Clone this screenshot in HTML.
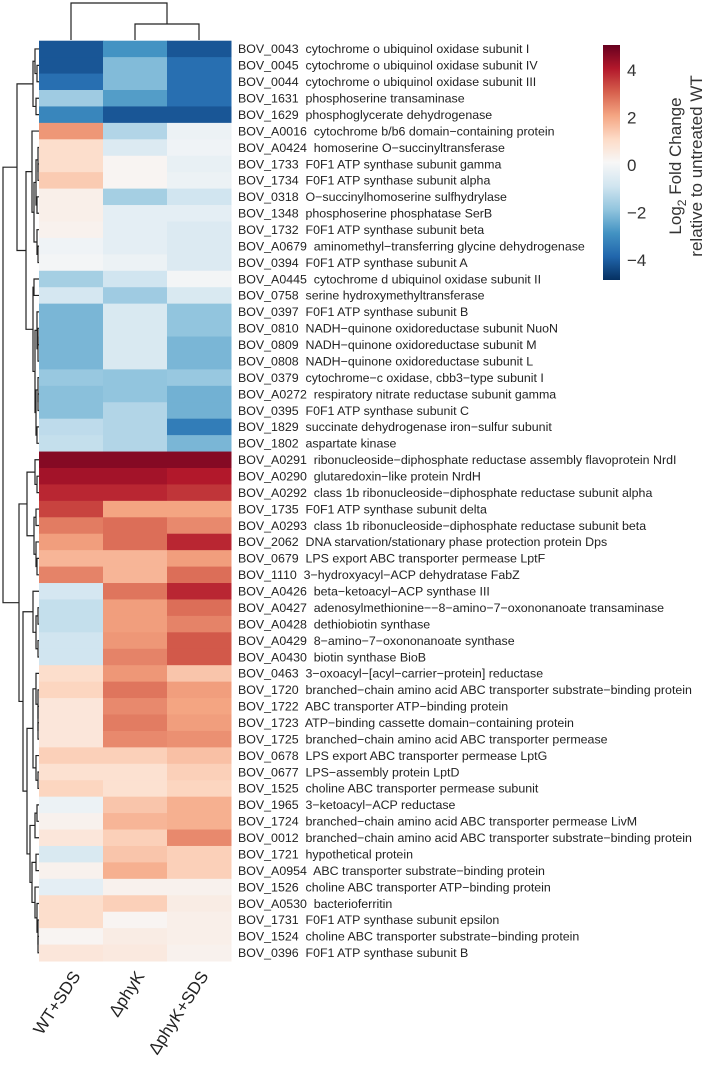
<!DOCTYPE html>
<html><head><meta charset="utf-8"><style>
body{margin:0;background:#fff;width:709px;height:1070px;overflow:hidden}
svg{display:block;font-family:"Liberation Sans",sans-serif}
</style></head><body>
<svg id="chart" width="709" height="1070" viewBox="0 0 709 1070" xmlns="http://www.w3.org/2000/svg">
<g id="cells"></g>
<g id="labels"></g>
<g id="rowdend" stroke="#222" stroke-width="1.2" fill="none"></g>
<g id="coldend" stroke="#222" stroke-width="1.2" fill="none"></g>
<g id="collabels"></g>
<defs><linearGradient id="cbg" x1="0" y1="1" x2="0" y2="0"></linearGradient></defs>
<rect x="603" y="45" width="17" height="235" fill="url(#cbg)"/>
<g id="cbticks"></g>
<text transform="translate(681,166) rotate(-90)" text-anchor="middle" font-size="17" fill="#333">Log<tspan font-size="12" dy="5">2</tspan><tspan dy="-5"> Fold Change</tspan></text>
<text transform="translate(702,166) rotate(-90)" text-anchor="middle" font-size="17" fill="#333">relative to untreated WT</text>
</svg>
<script>
const genes = ["BOV_0043  cytochrome o ubiquinol oxidase subunit I","BOV_0045  cytochrome o ubiquinol oxidase subunit IV","BOV_0044  cytochrome o ubiquinol oxidase subunit III","BOV_1631  phosphoserine transaminase","BOV_1629  phosphoglycerate dehydrogenase","BOV_A0016  cytochrome b/b6 domain\u2212containing protein","BOV_A0424  homoserine O\u2212succinyltransferase","BOV_1733  F0F1 ATP synthase subunit gamma","BOV_1734  F0F1 ATP synthase subunit alpha","BOV_0318  O\u2212succinylhomoserine sulfhydrylase","BOV_1348  phosphoserine phosphatase SerB","BOV_1732  F0F1 ATP synthase subunit beta","BOV_A0679  aminomethyl\u2212transferring glycine dehydrogenase","BOV_0394  F0F1 ATP synthase subunit A","BOV_A0445  cytochrome d ubiquinol oxidase subunit II","BOV_0758  serine hydroxymethyltransferase","BOV_0397  F0F1 ATP synthase subunit B","BOV_0810  NADH\u2212quinone oxidoreductase subunit NuoN","BOV_0809  NADH\u2212quinone oxidoreductase subunit M","BOV_0808  NADH\u2212quinone oxidoreductase subunit L","BOV_0379  cytochrome\u2212c oxidase, cbb3\u2212type subunit I","BOV_A0272  respiratory nitrate reductase subunit gamma","BOV_0395  F0F1 ATP synthase subunit C","BOV_1829  succinate dehydrogenase iron\u2212sulfur subunit","BOV_1802  aspartate kinase","BOV_A0291  ribonucleoside\u2212diphosphate reductase assembly flavoprotein NrdI","BOV_A0290  glutaredoxin\u2212like protein NrdH","BOV_A0292  class 1b ribonucleoside\u2212diphosphate reductase subunit alpha","BOV_1735  F0F1 ATP synthase subunit delta","BOV_A0293  class 1b ribonucleoside\u2212diphosphate reductase subunit beta","BOV_2062  DNA starvation/stationary phase protection protein Dps","BOV_0679  LPS export ABC transporter permease LptF","BOV_1110  3\u2212hydroxyacyl\u2212ACP dehydratase FabZ","BOV_A0426  beta\u2212ketoacyl\u2212ACP synthase III","BOV_A0427  adenosylmethionine\u2212\u22128\u2212amino\u22127\u2212oxononanoate transaminase","BOV_A0428  dethiobiotin synthase","BOV_A0429  8\u2212amino\u22127\u2212oxononanoate synthase","BOV_A0430  biotin synthase BioB","BOV_0463  3\u2212oxoacyl\u2212[acyl\u2212carrier\u2212protein] reductase","BOV_1720  branched\u2212chain amino acid ABC transporter substrate\u2212binding protein","BOV_1722  ABC transporter ATP\u2212binding protein","BOV_1723  ATP\u2212binding cassette domain\u2212containing protein","BOV_1725  branched\u2212chain amino acid ABC transporter permease","BOV_0678  LPS export ABC transporter permease LptG","BOV_0677  LPS\u2212assembly protein LptD","BOV_1525  choline ABC transporter permease subunit","BOV_1965  3\u2212ketoacyl\u2212ACP reductase","BOV_1724  branched\u2212chain amino acid ABC transporter permease LivM","BOV_0012  branched\u2212chain amino acid ABC transporter substrate\u2212binding protein","BOV_1721  hypothetical protein","BOV_A0954  ABC transporter substrate\u2212binding protein","BOV_1526  choline ABC transporter ATP\u2212binding protein","BOV_A0530  bacterioferritin","BOV_1731  F0F1 ATP synthase subunit epsilon","BOV_1524  choline ABC transporter substrate\u2212binding protein","BOV_0396  F0F1 ATP synthase subunit B"];
const conditions = ["WT+SDS","\u0394phyK","\u0394phyK+SDS"];
const wtSds = [-4.3,-4.3,-3.8,-1.8,-3.3,2.2,0.9,0.9,1.3,0.3,0.3,0.2,-0.2,-0.1,-1.7,-0.9,-2.3,-2.3,-2.3,-2.3,-1.9,-2.1,-2.1,-1.3,-1.2,4.6,4.2,3.8,3.4,2.6,2.1,1.7,2.5,-0.9,-1.2,-1.2,-1.0,-1.0,0.9,1.1,0.6,0.6,0.6,1.2,0.8,1.1,-0.3,0.2,0.6,-0.8,0.2,-0.5,0.9,0.9,0.1,0.6];
const phyK = [-3.0,-2.2,-2.2,-2.8,-4.3,-1.5,-0.7,0.1,0.1,-1.7,-0.5,-0.5,-0.5,-0.3,-1.0,-1.8,-0.8,-0.8,-0.8,-0.8,-2.0,-2.0,-1.5,-1.5,-1.5,4.6,4.2,3.8,2.0,2.8,2.8,1.7,1.7,2.7,2.1,2.1,2.2,2.5,2.2,2.7,2.4,2.6,2.4,1.2,0.8,0.8,1.4,1.7,1.2,1.4,1.8,0.2,1.2,0.1,0.4,0.5];
const phyKSds = [-4.3,-3.8,-3.8,-3.8,-4.3,-0.3,-0.2,-0.4,-0.3,-1.0,-0.5,-0.7,-0.7,-0.7,-0.1,-0.8,-2.0,-2.0,-2.3,-2.3,-1.9,-2.4,-2.4,-3.5,-2.3,4.6,4.0,3.6,2.0,2.4,3.8,2.1,2.8,3.8,2.8,2.5,3.1,3.1,1.4,2.1,2.0,2.1,2.3,1.5,1.2,1.1,1.8,1.8,2.4,1.2,1.2,0.2,0.4,0.3,0.3,0.2];
const cbTicks = [-4,-2,0,2,4];
const series = [wtSds, phyK, phyKSds];
const NS="http://www.w3.org/2000/svg";
const X0=39, CW=64, Y0=40.7, RH=(961-40.7)/genes.length;
const stops=["#053061","#2166ac","#4393c3","#92c5de","#d1e5f0","#f7f7f7","#fddbc7","#f4a582","#d6604d","#b2182b","#67001f"];
function hex(h){return [1,3,5].map(i=>parseInt(h.substr(i,2),16));}
function color(v){let t=(Math.max(-5,Math.min(5,v))+5)/10*10;let i=Math.min(9,Math.floor(t));let f=t-i;let a=hex(stops[i]),b=hex(stops[i+1]);return "rgb("+a.map((c,k)=>Math.round(c+(b[k]-c)*f)).join(",")+")";}
function mk(tag,attrs,parent){const e=document.createElementNS(NS,tag);for(const k in attrs)e.setAttribute(k,attrs[k]);parent.appendChild(e);return e;}
const cells=document.getElementById('cells');
series.forEach((s,c)=>s.forEach((v,r)=>{
  const e=mk('rect',{x:X0+c*CW,y:Y0+r*RH,width:CW+0.5,height:RH+0.5,fill:color(v)},cells);
  
  
}));
const labels=document.getElementById('labels');
genes.forEach((g,r)=>{
  const t=mk('text',{x:238,y:Y0+(r+0.5)*RH+4.3,'font-size':12.4,fill:'#222'},labels);
  t.setAttribute('style','white-space:pre');
  t.textContent=g;
  
  
});
const tree=[36,
 [22,[6,[4,0,[2,1,2]],[3,3,4]],
   [13,[7,5,[5,[3,[1,6,[1,7,8]],[2,9,10]],[2,11,[1,12,13]]]],
       [6,[5,14,15],[4,[2,16,[1,[1,17,18],19]],[3,[1,20,[1,21,22]],[2,23,24]]]]]],
 [20,[12,[4,25,[2,26,27]],[5,[3,28,29],[3,30,[2,31,32]]]],
   [16,[6,33,[3,[1,34,35],[1,36,37]]],
       [12,[6,[3,38,[1,39,[1,40,[1,41,42]]]],[3,43,[1,44,45]]],
           [9,[4,[2,46,47],48],[7,[3,49,50],[4,51,[2,52,[1,53,[1,54,55]]]]]]]]]];
const rd=document.getElementById('rowdend');
function lay(n){
  if(typeof n==='number')return {y:Y0+(n+0.5)*RH,x:X0};
  const a=lay(n[1]),b=lay(n[2]),x=X0-n[0];
  const p=mk('path',{d:`M${a.x},${a.y}H${x}V${b.y}H${b.x}`},rd);
  
  
  return {x:x,y:(a.y+b.y)/2};
}
lay(tree);
const cd=document.getElementById('coldend');
const cx=i=>X0+(i+0.5)*CW;
const c1=mk('path',{d:`M${cx(1)},40V24H${cx(2)}V40`},cd);


const c2=mk('path',{d:`M${cx(0)},40V3H${(cx(1)+cx(2))/2}V24`},cd);


const cl=document.getElementById('collabels');
conditions.forEach((c,i)=>{
  const t=mk('text',{transform:`translate(${cx(i)+10},976) rotate(-57)`,'text-anchor':'end','font-size':17,fill:'#222'},cl);
  t.textContent=c;
  
  
});
const g=document.getElementById('cbg');
stops.forEach((s,i)=>mk('stop',{offset:(i/10),'stop-color':s},g));
const cbt=document.getElementById('cbticks');
const cbY=v=>165-v*23.75;
cbTicks.forEach(v=>{
  const t=mk('text',{x:627,y:cbY(v)+6,'font-size':17,fill:'#333'},cbt);
  t.textContent=v<0?'\u2212'+Math.abs(v):String(v);
  
  
});
</script>
</body></html>
